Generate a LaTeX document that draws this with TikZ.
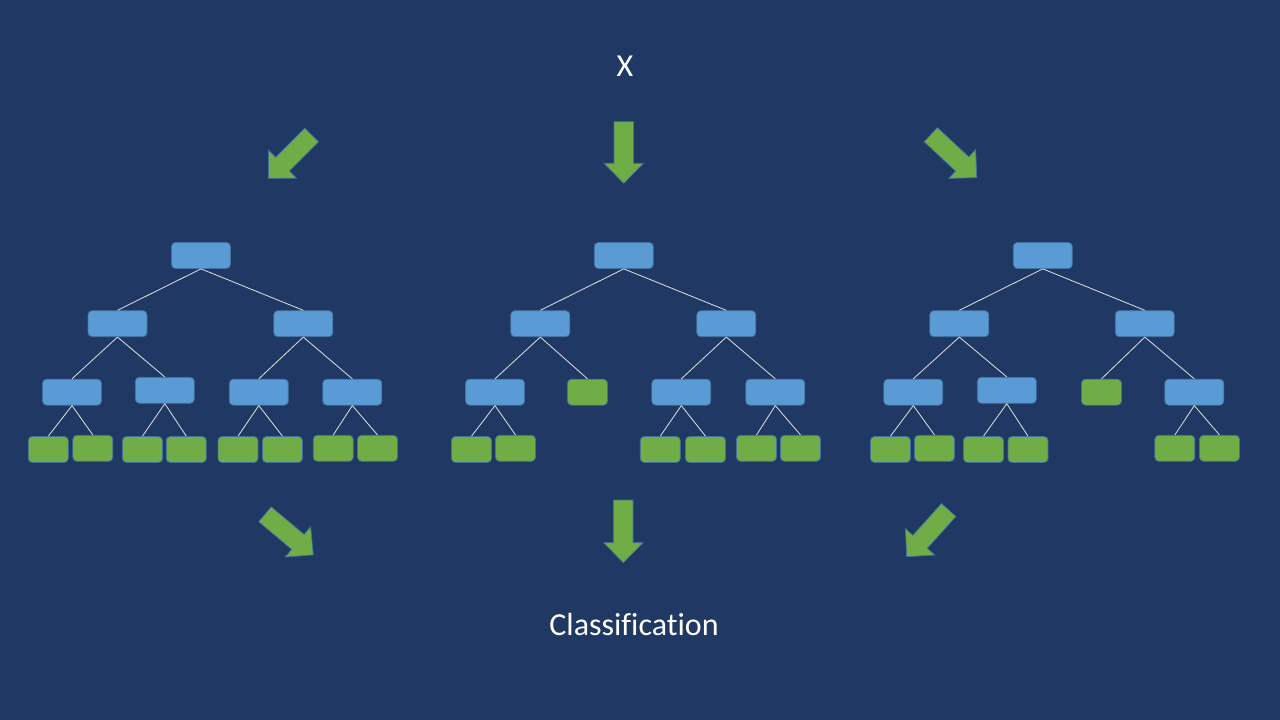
\documentclass[tikz,border=0pt]{standalone}
\usepackage{fontspec}
\setmainfont{Carlito}[Ligatures={NoCommon}]
\definecolor{bgnavy}{RGB}{32,56,100}
\definecolor{nodeblue}{RGB}{91,155,213}
\definecolor{leafgreen}{RGB}{112,173,71}
\definecolor{outlineblue}{RGB}{65,113,156}
\definecolor{edgegray}{RGB}{225,225,225}
\tikzset{
  split/.style={draw=outlineblue, fill=nodeblue, line width=0.75pt, rounded corners=4pt,
    minimum width=59pt, minimum height=26pt, inner sep=0pt},
  leaf/.style={draw=outlineblue, fill=leafgreen, line width=0.75pt, rounded corners=4pt,
    minimum width=40pt, minimum height=26pt, inner sep=0pt},
  branch/.style={draw=edgegray, line width=0.8pt},
  blockarrow/.style={fill=leafgreen, draw=outlineblue, line width=0.75pt, line join=miter},
  label/.style={text=white, font=\fontsize{32}{38}\selectfont, inner sep=0pt, anchor=base}
}
\newcommand{\bigarrow}[3]{%
  \draw[blockarrow, shift={(#1)}, rotate=#2]
    (0,-9.7) -- ({#3-20},-9.7) -- ({#3-20},-19.7) -- (#3,0) -- ({#3-20},19.7)
    -- ({#3-20},9.7) -- (0,9.7) -- cycle;}
\begin{document}
\begin{tikzpicture}[x=1pt,y=-1pt]
\fill[bgnavy] (0,0) rectangle (1280,720);
\useasboundingbox (0,0) rectangle (1280,720);

% texts
\node[label] (x) at (625,76) {X};
\node[label] (cls) at (634,635) {Classification};

% block arrows
\bigarrow{311.7,135}{-135}{61.3}
\bigarrow{623.7,121.7}{-90}{61.6}
\bigarrow{930.8,134.7}{-43}{62.9}
\bigarrow{265,514.3}{-40}{63}
\bigarrow{623.3,500}{-90}{62.7}
\bigarrow{948.7,510}{-132}{62.8}

% ---------- tree 1 ----------
\node[split] (r1) at (201,255.5) {};
\node[split] (a1) at (117.5,323.7) {};
\node[split] (b1) at (303.3,323.7) {};
\node[split] (c1) at (72,392.2) {};
\node[split] (d1) at (164.8,390.3) {};
\node[split] (e1) at (258.8,392.2) {};
\node[split] (f1) at (352.3,392.2) {};
\node[leaf] (c1l) at (48.3,449.5) {};
\node[leaf] (c1r) at (92.8,448.3) {};
\node[leaf] (d1l) at (142.5,449.5) {};
\node[leaf] (d1r) at (186.3,449.5) {};
\node[leaf] (e1l) at (238,449.5) {};
\node[leaf] (e1r) at (282.5,449.5) {};
\node[leaf] (f1l) at (333.3,448.3) {};
\node[leaf] (f1r) at (377.5,448.3) {};
\draw[branch] (r1.south) -- (a1.north);
\draw[branch] (r1.south) -- (b1.north);
\draw[branch] (a1.south) -- (c1.north);
\draw[branch] (a1.south) -- (d1.north);
\draw[branch] (b1.south) -- (e1.north);
\draw[branch] (b1.south) -- (f1.north);
\draw[branch] (c1.south) -- (c1l.north);
\draw[branch] (c1.south) -- (c1r.north);
\draw[branch] (d1.south) -- (d1l.north);
\draw[branch] (d1.south) -- (d1r.north);
\draw[branch] (e1.south) -- (e1l.north);
\draw[branch] (e1.south) -- (e1r.north);
\draw[branch] (f1.south) -- (f1l.north);
\draw[branch] (f1.south) -- (f1r.north);

% ---------- tree 2 ----------
\node[split] (r2) at (623.8,255.5) {};
\node[split] (a2) at (540.3,323.7) {};
\node[split] (b2) at (726.3,323.7) {};
\node[split] (c2) at (495,392.2) {};
\node[leaf]  (g2) at (587.5,392.2) {};
\node[split] (e2) at (681.3,392.2) {};
\node[split] (f2) at (775.3,392.2) {};
\node[leaf] (c2l) at (471.5,449.5) {};
\node[leaf] (c2r) at (515.5,448.3) {};
\node[leaf] (e2l) at (660.3,449.5) {};
\node[leaf] (e2r) at (705.5,449.5) {};
\node[leaf] (f2l) at (756.5,448.3) {};
\node[leaf] (f2r) at (800.5,448.3) {};
\draw[branch] (r2.south) -- (a2.north);
\draw[branch] (r2.south) -- (b2.north);
\draw[branch] (a2.south) -- (c2.north);
\draw[branch] (a2.south) -- (g2.north);
\draw[branch] (b2.south) -- (e2.north);
\draw[branch] (b2.south) -- (f2.north);
\draw[branch] (c2.south) -- (c2l.north);
\draw[branch] (c2.south) -- (c2r.north);
\draw[branch] (e2.south) -- (e2l.north);
\draw[branch] (e2.south) -- (e2r.north);
\draw[branch] (f2.south) -- (f2l.north);
\draw[branch] (f2.south) -- (f2r.north);

% ---------- tree 3 ----------
\node[split] (r3) at (1042.8,255.5) {};
\node[split] (a3) at (959.3,323.7) {};
\node[split] (b3) at (1144.8,323.7) {};
\node[split] (c3) at (913.3,392.2) {};
\node[split] (d3) at (1006.8,390.3) {};
\node[leaf]  (g3) at (1101.5,392.2) {};
\node[split] (f3) at (1194.3,392.2) {};
\node[leaf] (c3l) at (890.5,449.5) {};
\node[leaf] (c3r) at (934.5,448.3) {};
\node[leaf] (d3l) at (983.5,449.5) {};
\node[leaf] (d3r) at (1028,449.5) {};
\node[leaf] (f3l) at (1174.8,448.3) {};
\node[leaf] (f3r) at (1219.5,448.3) {};
\draw[branch] (r3.south) -- (a3.north);
\draw[branch] (r3.south) -- (b3.north);
\draw[branch] (a3.south) -- (c3.north);
\draw[branch] (a3.south) -- (d3.north);
\draw[branch] (b3.south) -- (g3.north);
\draw[branch] (b3.south) -- (f3.north);
\draw[branch] (c3.south) -- (c3l.north);
\draw[branch] (c3.south) -- (c3r.north);
\draw[branch] (d3.south) -- (d3l.north);
\draw[branch] (d3.south) -- (d3r.north);
\draw[branch] (f3.south) -- (f3l.north);
\draw[branch] (f3.south) -- (f3r.north);
\end{tikzpicture}
\end{document}
